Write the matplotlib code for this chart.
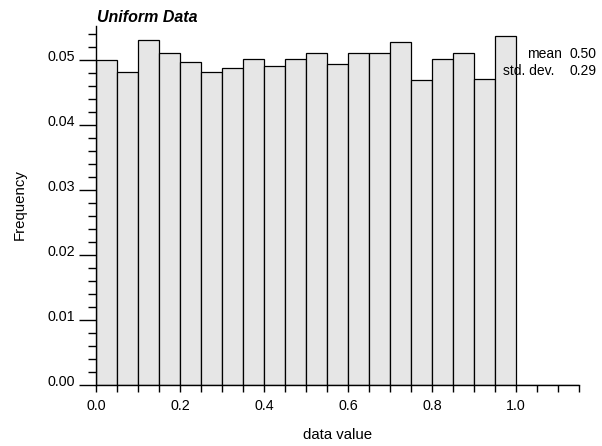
import numpy as np
import matplotlib.pyplot as plt
import matplotlib.transforms as mtransforms
from matplotlib.ticker import MultipleLocator, FixedLocator

plt.rcParams['font.family'] = ['Liberation Sans', 'DejaVu Sans']

# histogram data (bin left edges, relative frequency)
bin_edges = [0.00, 0.05, 0.10, 0.15, 0.20, 0.25, 0.30, 0.35, 0.40, 0.45,
             0.50, 0.55, 0.60, 0.65, 0.70, 0.75, 0.80, 0.85, 0.90, 0.95,
             1.00, 1.05, 1.10]
freqs = [0.0499, 0.0481, 0.0530, 0.0510, 0.0496, 0.0482, 0.0487, 0.0502,
         0.0491, 0.0502, 0.0510, 0.0494, 0.0510, 0.0511, 0.0528, 0.0469,
         0.0502, 0.0511, 0.0470, 0.0536, 0.0, 0.0, 0.0]
bin_width = 0.05

x_ticks = [0.0, 0.2, 0.4, 0.6, 0.8, 1.0]
x_labels = ["0.0", "0.2", "0.4", "0.6", "0.8", "1.0"]
y_ticks = [0.00, 0.01, 0.02, 0.03, 0.04, 0.05]
y_labels = ["0.00", "0.01", "0.02", "0.03", "0.04", "0.05"]

stat_names = ["mean", "std. dev."]
stat_values = ["0.50", "0.29"]

FS = 10.8
TICK_FS = 10.3
STAT_FS = 10

W, H = 602, 446
fig = plt.figure(figsize=(W / 100, H / 100), dpi=100)
ax = fig.add_axes([96 / W, 1 - 385 / H, (579 - 96) / W, (385 - 26) / H])

ax.bar(bin_edges, freqs, width=bin_width, align='edge',
       color='#e6e6e6', edgecolor='black', linewidth=0.9, zorder=2)

ax.set_xlim(0, 1.15)
ax.set_ylim(0, 0.0552)

for s in ['top', 'right']:
    ax.spines[s].set_visible(False)
for s in ['left', 'bottom']:
    ax.spines[s].set_linewidth(1.0)
    ax.spines[s].set_zorder(3)

ax.xaxis.set_major_locator(FixedLocator(x_ticks))
ax.set_xticklabels(x_labels)
ax.xaxis.set_minor_locator(MultipleLocator(0.05))
ax.yaxis.set_major_locator(FixedLocator(y_ticks))
ax.set_yticklabels(y_labels)
ax.yaxis.set_minor_locator(MultipleLocator(0.002))

ax.tick_params(axis='x', which='both', direction='out', length=5,
               width=1.0, labelsize=TICK_FS, pad=5)
ax.tick_params(axis='y', which='major', direction='out', length=12,
               width=1.0, labelsize=TICK_FS, pad=3)
ax.tick_params(axis='y', which='minor', direction='out', length=6, width=1.0)

# y labels sit a little above their ticks
shift = mtransforms.ScaledTranslation(0, 4 / 100, fig.dpi_scale_trans)
for lbl in ax.get_yticklabels():
    lbl.set_transform(lbl.get_transform() + shift)

fig.text(97 / W, 1 - 22 / H, "Uniform Data", fontsize=11.5,
         fontweight='bold', fontstyle='italic', ha='left', va='baseline')

fig.text(20 / W, 1 - 205 / H, "Frequency", fontsize=FS, rotation=90,
         ha='center', va='center')
fig.text(338 / W, 1 - 439 / H, "data value", fontsize=FS,
         ha='center', va='baseline')

name_x = [562, 554]
row_y = [58, 75]
for name, val, nx, ry in zip(stat_names, stat_values, name_x, row_y):
    fig.text(nx / W, 1 - ry / H, name, fontsize=STAT_FS, ha='right',
             va='baseline')
    fig.text(597 / W, 1 - ry / H, val, fontsize=STAT_FS, ha='right',
             va='baseline')

plt.savefig("out.png", dpi=100)
